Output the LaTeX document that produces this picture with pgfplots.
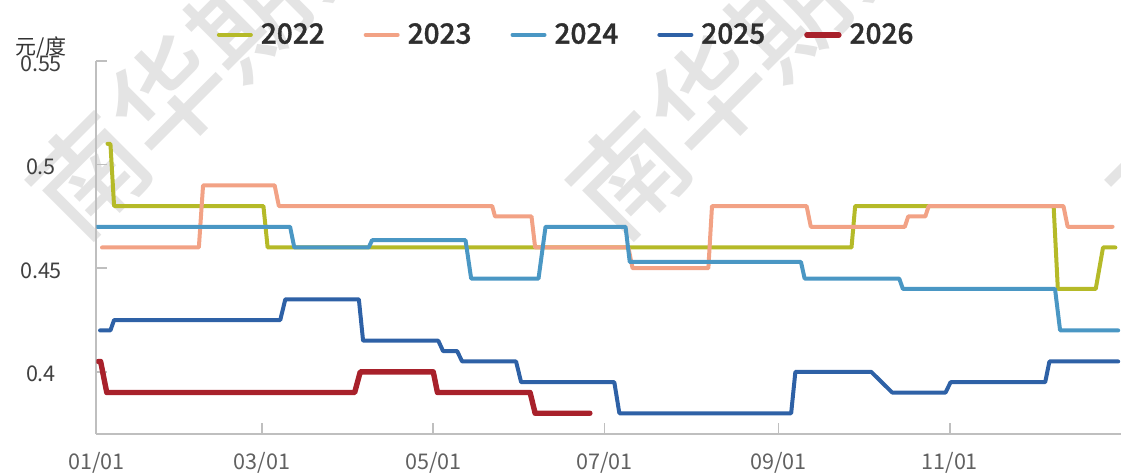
\documentclass[border=0pt]{standalone}
\usepackage{fontspec}
\setmainfont{Noto Sans CJK SC}
\newfontfamily\legendfont{Noto Sans CJK SC Medium}[FakeBold=1.2]
\newfontfamily\wmfont{Noto Sans CJK SC Medium}
\usepackage{pgfplots}
\pgfplotsset{compat=1.18}

\definecolor{c2022}{RGB}{181,186,40}
\definecolor{c2023}{RGB}{242,162,133}
\definecolor{c2024}{RGB}{74,151,196}
\definecolor{c2025}{RGB}{46,97,166}
\definecolor{c2026}{RGB}{168,33,43}
\definecolor{axisgray}{RGB}{191,191,191}
\definecolor{wm}{RGB}{228,228,228}

\begin{document}
\begin{tikzpicture}
% watermark
\foreach \wx in {55.8,325.8,595.8}{
  \node[rotate=45, text=wm, font=\wmfont\fontsize{56}{56}\selectfont, inner sep=0pt]
    at (\wx pt,189pt) {南华期货};
}
\begin{axis}[
  at={(0,0)}, anchor=south west,
  scale only axis,
  width=512.3pt, height=186.5pt,
  xmin=0, xmax=365, ymin=0.37, ymax=0.55,
  axis x line=bottom, axis y line=left,
  axis line style={axisgray, line width=1pt, -},
  tick align=inside,
  major tick length=5.5pt,
  tick style={axisgray, line width=0.8pt},
  xtick={0,59,120,181,243,304},
  xticklabels={01/01,03/01,05/01,07/01,09/01,11/01},
  ytick={0.4,0.45,0.5,0.55},
  yticklabels={0.4,0.45,0.5,0.55},
  /pgf/number format/assume math mode=true,
  xticklabel style={font=\fontsize{10.8}{12}\selectfont, text=black!62, anchor=center, yshift=-14.5pt},
  yticklabel style={font=\fontsize{10.8}{12}\selectfont, text=black!75, anchor=center, xshift=-27.7pt, yshift=-1.2pt},
  legend columns=5,
  legend style={at={(0.4575,1.07)}, anchor=center, draw=none, fill=none,
    font=\legendfont\fontsize{14}{15}\selectfont, text=black!82,
    inner sep=0pt, column sep=0pt,
    nodes={inner sep=0pt, inner xsep=0pt},
    /tikz/every even column/.append style={column sep=19.5pt},
    /tikz/every odd column/.append style={column sep=4pt}},
  legend image code/.code={\draw[#1] (0pt,0pt) -- (16pt,0pt);},
  every axis plot/.append style={line join=round, line cap=round},
]
\addplot[c2022, line width=2pt] coordinates {
  (4,0.51) (5,0.51) (6.3,0.48) (59.5,0.48) (61,0.46) (269,0.46) (270.3,0.48)
  (341,0.48) (342.5,0.44) (356,0.44) (358.6,0.46) (363,0.46)};
\addlegendentry{2022}
\addplot[c2023, line width=2pt] coordinates {
  (2,0.46) (36.5,0.46) (38,0.49) (63.5,0.49) (65,0.48) (141,0.48) (142,0.475)
  (155,0.475) (156.3,0.46) (189.5,0.46) (191,0.45) (218,0.45) (219.3,0.48)
  (253,0.48) (254.5,0.47) (288,0.47) (289.2,0.475) (295.3,0.475) (296.5,0.48)
  (344.5,0.48) (346,0.47) (362,0.47)};
\addlegendentry{2023}
\addplot[c2024, line width=2pt] coordinates {
  (0.3,0.47) (69,0.47) (70.5,0.46) (97,0.46) (98.2,0.4635) (131.5,0.4635)
  (133.5,0.445) (157.5,0.445) (160,0.47) (188.5,0.47) (190,0.453) (251,0.453)
  (252.3,0.445) (286,0.445) (287.3,0.44) (341.5,0.44) (343.3,0.42) (364,0.42)};
\addlegendentry{2024}
\addplot[c2025, line width=2pt] coordinates {
  (1.3,0.42) (5,0.42) (6.3,0.425) (65.5,0.425) (67.3,0.435) (93.5,0.435)
  (95,0.415) (121.8,0.415) (123.5,0.41) (128.5,0.41) (130.3,0.405)
  (149.5,0.405) (151.3,0.395) (184.5,0.395) (186.3,0.38) (247.5,0.38)
  (249,0.40) (276,0.40) (283.5,0.39) (302.5,0.39) (304.3,0.395) (338,0.395)
  (339.5,0.405) (364,0.405)};
\addlegendentry{2025}
\addplot[c2026, line width=2.7pt] coordinates {
  (0.7,0.405) (1.5,0.405) (3.7,0.39) (92,0.39) (94,0.40) (120,0.40)
  (121.5,0.39) (154.5,0.39) (156.3,0.38) (175.8,0.38)};
\addlegendentry{2026}
\end{axis}
\node[font=\fontsize{10.5}{12}\selectfont, text=black!80] at (-27.7pt,193pt) {元/度};
\pgfresetboundingbox
\useasboundingbox (-48.2pt,-20.5pt) rectangle (512.3pt,217pt);
\end{tikzpicture}
\end{document}
